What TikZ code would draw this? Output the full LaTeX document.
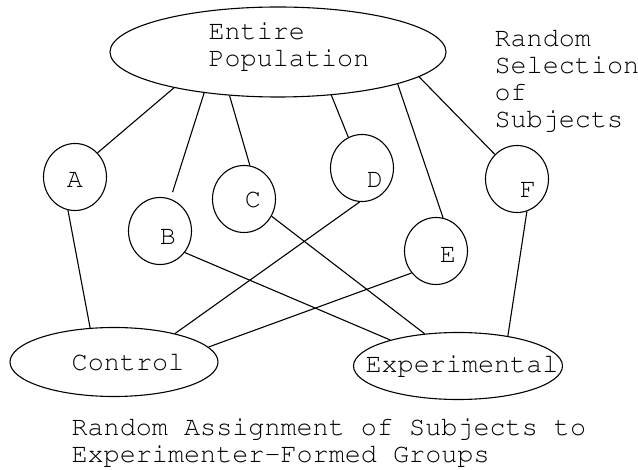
\documentclass[tikz,border=0pt]{standalone}
\usepackage[T1]{fontenc}
\usepackage{courier}
\usetikzlibrary{shapes.geometric}

\begin{document}
\begin{tikzpicture}
	[x=1pt,y=-1pt,line width=1.1pt,
		font=\ttfamily\fontsize{26.8}{27}\selectfont,
		grp node/.style={ellipse,draw,inner sep=0pt},
		subj node/.style={ellipse,draw,inner sep=0pt,minimum width=63pt,minimum height=67pt},
		txt node/.style={inner sep=0pt,align=left}]

	\useasboundingbox (0,0) rectangle (638,470);

	% population and the two groups
	\node[grp node, minimum width=336pt, minimum height=90pt] (pop) at (278,52) {};
	\node[txt node, anchor=base west] (poptext) at (208,67) {Entire\\Population};
	\node[grp node, minimum width=208pt, minimum height=69pt,
		label={[shift={(14,0)}]center:Control}] (ctrl) at (114,362) {};
	\node[grp node, minimum width=209pt, minimum height=67pt,
		label={[shift={(4,0)}]center:Experimental}] (exp) at (458,366) {};

	% subjects
	\node[subj node, label={[shift={(0,3)}]center:A}]   (A) at (75,177)  {};
	\node[subj node, label={[shift={(8,6)}]center:B}]   (B) at (160,231) {};
	\node[subj node, label={[shift={(9,1)}]center:C}]   (C) at (244,199) {};
	\node[subj node, label={[shift={(13,12)}]center:D}] (D) at (362,168) {};
	\node[subj node, label={[shift={(12,4)}]center:E}]  (E) at (436,251) {};
	\node[subj node, label={[shift={(11,11)}]center:F}] (F) at (517,179) {};

	\node[txt node, anchor=base west] (select) at (494,128) {Random\\Selection\\of\\Subjects};
	\node[txt node, anchor=base west] (assign) at (71,463) {Random Assignment of Subjects to\\Experimenter-Formed Groups};

	% random selection
	\draw (pop.199) -- (A.47);
	\draw[shorten >=7pt] (pop.209) -- (B.72);
	\draw (pop.222) -- (C.80);
	\draw (pop.321) -- (D.114);
	\draw (pop.345) -- (E.78);
	\draw (pop.350) -- (F.132);

	% random assignment
	\draw (A.258) -- (ctrl.125);
	\draw (D.266) -- (ctrl.25);
	\draw (E.222) -- (ctrl.9);
	\draw (B.319) -- (exp.159);
	\draw (C.328) -- (exp.136);
	\draw (F.287) -- (exp.31);

\end{tikzpicture}
\end{document}
